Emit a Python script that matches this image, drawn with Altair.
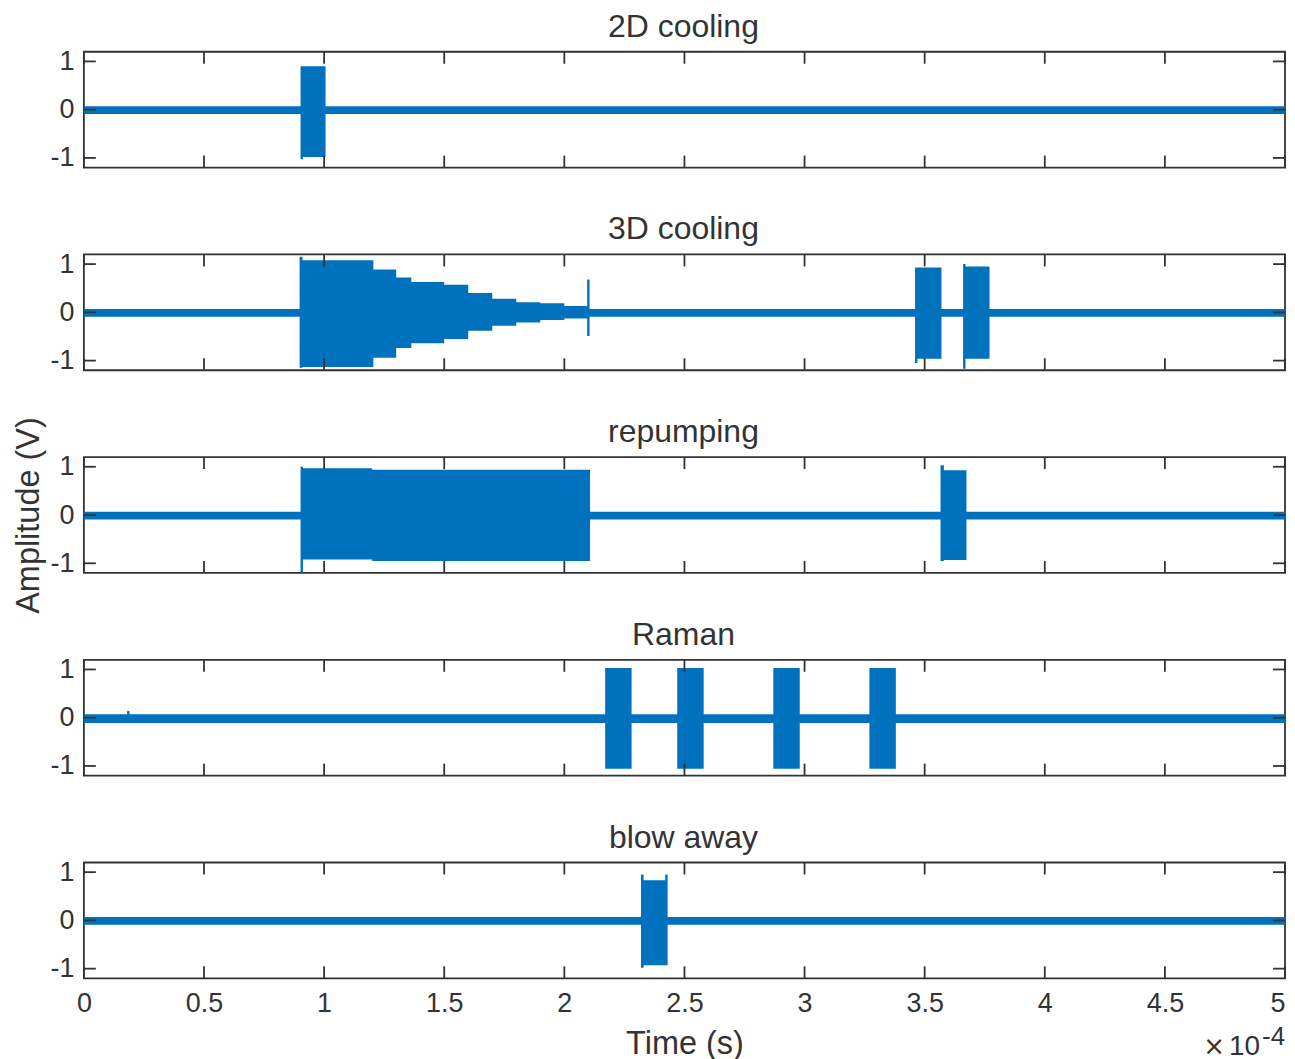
import altair as alt
import pandas as pd

FONT = "Liberation Sans"
BLUE = "#0072BD"
INK = "#333333"

titles = ["2D cooling", "3D cooling", "repumping", "Raman", "blow away"]

# time breakpoints (units of 1e-4 s); the envelope (hi / lo, in V) holds from each x to the next
cool2d_x  = [0.0, 0.902, 0.912, 1.006, 5.0]
cool2d_hi = [0.07, 0.90, 0.90, 0.07, 0.07]
cool2d_lo = [-0.09, -1.03, -0.98, -0.09, -0.09]

cool3d_x  = [0.0, 0.898, 0.910, 1.205, 1.300, 1.363, 1.500, 1.600, 1.700, 1.800, 1.900, 2.000,
             2.095, 2.105, 3.460, 3.470, 3.570, 3.660, 3.670, 3.770, 5.0]
cool3d_hi = [0.07, 1.15, 1.08, 0.89, 0.72, 0.63, 0.57, 0.40, 0.28, 0.21, 0.19, 0.13,
             0.68, 0.07, 0.93, 0.93, 0.07, 1.00, 0.95, 0.07, 0.07]
cool3d_lo = [-0.09, -1.15, -1.13, -0.94, -0.74, -0.64, -0.55, -0.38, -0.28, -0.21, -0.16, -0.13,
             -0.49, -0.09, -1.05, -0.96, -0.09, -1.17, -0.96, -0.09, -0.09]

repump_x  = [0.0, 0.902, 0.912, 1.200, 2.107, 3.566, 3.580, 3.674, 5.0]
repump_hi = [0.07, 1.00, 0.97, 0.94, 0.07, 1.03, 0.93, 0.07, 0.07]
repump_lo = [-0.09, -1.19, -0.92, -0.95, -0.09, -0.95, -0.93, -0.09, -0.09]

raman_x  = [0.0, 0.180, 0.190, 2.170, 2.280, 2.470, 2.580, 2.870, 2.980, 3.270, 3.380, 5.0]
raman_hi = [0.07, 0.14, 0.07, 1.03, 0.07, 1.03, 0.07, 1.03, 0.07, 1.03, 0.07, 0.07]
raman_lo = [-0.11, -0.11, -0.11, -1.06, -0.11, -1.06, -0.11, -1.06, -0.11, -1.06, -0.11, -0.11]

blow_x  = [0.0, 2.319, 2.330, 2.420, 2.430, 5.0]
blow_hi = [0.07, 0.95, 0.83, 0.95, 0.07, 0.07]
blow_lo = [-0.09, -0.98, -0.93, -0.93, -0.09, -0.09]

signals = [
    (cool2d_x, cool2d_hi, cool2d_lo),
    (cool3d_x, cool3d_hi, cool3d_lo),
    (repump_x, repump_hi, repump_lo),
    (raman_x, raman_hi, raman_lo),
    (blow_x, blow_hi, blow_lo),
]

x_ticks = [0, 0.5, 1, 1.5, 2, 2.5, 3, 3.5, 4, 4.5, 5]
y_ticks = [-1, 0, 1]
x_domain = [0, 5]
y_domain = [-1.2, 1.2]

W, H = 1203, 116
TL = 12  # inward tick length (px)

xt_df = pd.DataFrame({"t": x_ticks})
yt_df = pd.DataFrame({"t": y_ticks})
one_df = pd.DataFrame({"k": [0]})

panels = []
for i, (title, (xs, hi, lo)) in enumerate(zip(titles, signals)):
    last = i == len(titles) - 1
    if last:
        xaxis = alt.Axis(values=x_ticks, labelExpr="'' + datum.value", title="Time (s)",
                         labelPadding=12, titlePadding=11,
                         labelAlign=alt.condition("datum.value == 5", alt.value("right"), alt.value("center")))
    else:
        xaxis = None
    if i == 2:
        yaxis = alt.Axis(values=y_ticks, labelExpr="'' + datum.value", title="Amplitude (V)",
                         labelPadding=10, titlePadding=4.5)
    else:
        yaxis = alt.Axis(values=y_ticks, labelExpr="'' + datum.value", title=None, labelPadding=10)

    def X(field):
        return alt.X(field, type="quantitative", scale=alt.Scale(domain=x_domain, nice=False, zero=False),
                     axis=xaxis)

    def Y(field):
        return alt.Y(field, type="quantitative", scale=alt.Scale(domain=y_domain, nice=False, zero=False),
                     axis=yaxis)

    df = pd.DataFrame({"x": xs, "hi": hi, "lo": lo})
    area = alt.Chart(df).mark_area(interpolate="step-after", color=BLUE, opacity=1).encode(
        x=X("x"), y=Y("hi"), y2="lo"
    )
    xt_top = alt.Chart(xt_df).mark_rule(color=INK, strokeWidth=1.8).encode(
        x=X("t"), y=alt.value(0), y2=alt.value(TL))
    xt_bot = alt.Chart(xt_df).mark_rule(color=INK, strokeWidth=1.8).encode(
        x=X("t"), y=alt.value(H - TL), y2=alt.value(H))
    yt_left = alt.Chart(yt_df).mark_rule(color=INK, strokeWidth=1.8).encode(
        y=Y("t"), x=alt.value(0), x2=alt.value(TL))
    yt_right = alt.Chart(yt_df).mark_rule(color=INK, strokeWidth=1.8).encode(
        y=Y("t"), x=alt.value(W - TL), x2=alt.value(W))
    ttl = alt.Chart(one_df).mark_text(text=title, font=FONT, fontSize=32, color=INK,
                                      align="center", baseline="alphabetic").encode(
        x=alt.value(W / 2 - 1), y=alt.value(-15))
    layers = [area, xt_top, xt_bot, yt_left, yt_right, ttl]
    if last:
        times = alt.Chart(one_df).mark_text(text="×", font="DejaVu Sans", fontSize=26, color=INK,
                                            align="right", baseline="alphabetic").encode(
            x=alt.value(1143), y=alt.value(193))
        ten = alt.Chart(one_df).mark_text(text="10", font=FONT, fontSize=28, color=INK,
                                          align="right", baseline="alphabetic").encode(
            x=alt.value(1178), y=alt.value(193))
        expo = alt.Chart(one_df).mark_text(text="-4", font=FONT, fontSize=26, color=INK,
                                           align="left", baseline="alphabetic").encode(
            x=alt.value(1180), y=alt.value(183))
        layers += [times, ten, expo]
    panel = alt.layer(*layers).properties(width=W, height=H)
    panels.append(panel)

chart = alt.vconcat(*panels, spacing=87, bounds="flush").properties(
    padding={"left": 3, "top": 1, "right": 0, "bottom": 0}
).configure_view(
    stroke=INK, strokeWidth=1.8
).configure_axis(
    labelFont=FONT, labelFontSize=27, labelColor=INK,
    titleFont=FONT, titleFontSize=32.5, titleColor=INK, titleFontWeight="normal",
    grid=False, domain=False, ticks=False, tickSize=0
)

chart.save("out.html", embed_options={"renderer": "svg", "actions": False})
